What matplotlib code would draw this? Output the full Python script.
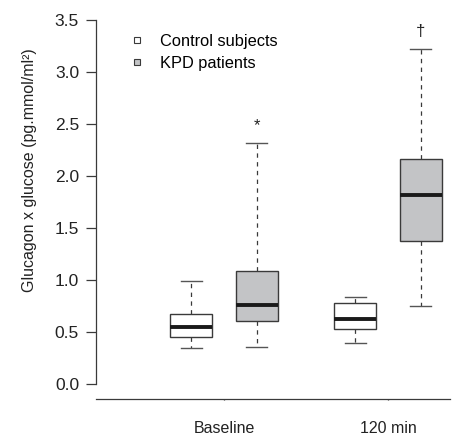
import numpy as np
import matplotlib
matplotlib.use('Agg')
import matplotlib.pyplot as plt
from matplotlib.lines import Line2D

plt.rcParams['font.family'] = ['Liberation Sans', 'DejaVu Sans']
plt.rcParams['font.size'] = 11.5

# box statistics
groups = ["Baseline", "120 min"]
series = ["Control subjects", "KPD patients"]
whislo = [0.35, 0.36, 0.39, 0.75]
q1 = [0.45, 0.61, 0.53, 1.37]
med = [0.55, 0.76, 0.62, 1.82]
q3 = [0.67, 1.09, 0.78, 2.16]
whishi = [0.99, 2.32, 0.84, 3.22]
marks = ["", "*", "", "\u2020"]

fills = ["white", "#c3c4c6"]
edge = "#3a3a3a"

stats = []
for i in range(4):
    stats.append(dict(whislo=whislo[i], q1=q1[i], med=med[i], q3=q3[i],
                      whishi=whishi[i], fliers=[]))

centers = np.arange(1, len(groups) + 1)
offs = 0.2
positions = []
for c in centers:
    positions += [c - offs, c + offs]

fig = plt.figure(figsize=(4.55, 4.37), dpi=100)
ax = fig.add_axes([96/455, 38/437, 354/455, 399/437])

bp = ax.bxp(stats, positions=positions, widths=0.256, patch_artist=True,
            showfliers=False,
            boxprops=dict(edgecolor=edge, linewidth=1.0),
            medianprops=dict(color="#1a1a1a", linewidth=2.8, solid_capstyle='butt'),
            whiskerprops=dict(color=edge, linewidth=0.9, linestyle=(0, (3.5, 3.5))),
            capprops=dict(color="#555555", linewidth=1.0))
for i, b in enumerate(bp['boxes']):
    b.set_facecolor(fills[i % 2])

for i, m in enumerate(marks):
    if m:
        ax.annotate(m, (positions[i], whishi[i]), xytext=(0, 7),
                    textcoords='offset points', ha='center', va='bottom',
                    color="#222222", fontsize=12)

ax.set_xlim(0.22, 2.378)
ax.set_ylim(-0.144, 3.69)
ax.set_yticks(np.arange(0, 3.51, 0.5))
ax.set_yticklabels(["%.1f" % v for v in np.arange(0, 3.51, 0.5)], fontsize=12.5)
ax.set_xticks(centers)
ax.set_xticklabels(groups)
ax.tick_params(axis='y', direction='out', length=7.2, width=0.9, color=edge,
               pad=5, labelcolor="#222222")
ax.tick_params(axis='x', direction='out', length=1.0, width=0.9, color=edge,
               pad=15, labelcolor="#222222")
for s in ['top', 'right']:
    ax.spines[s].set_visible(False)
ax.spines['left'].set_bounds(0, 3.5)
ax.spines['left'].set_color(edge)
ax.spines['bottom'].set_color(edge)
ax.spines['left'].set_linewidth(0.9)
ax.spines['bottom'].set_linewidth(0.9)

ax.set_ylabel("Glucagon x glucose (pg.mmol/ml\u00b2)", color="#222222")
ax.yaxis.set_label_coords(-0.167, 0.574)

handles = [Line2D([], [], linestyle='none', marker='s', markersize=5,
                  markerfacecolor=fills[k], markeredgecolor=edge,
                  markeredgewidth=0.8) for k in range(2)]
ax.legend(handles, series, loc='upper left', bbox_to_anchor=(0.075, 0.932),
          frameon=False, handlelength=1.0, handletextpad=0.9,
          labelspacing=0.45, borderaxespad=0, fontsize=11.8)

fig.savefig("out.png", dpi=100)
